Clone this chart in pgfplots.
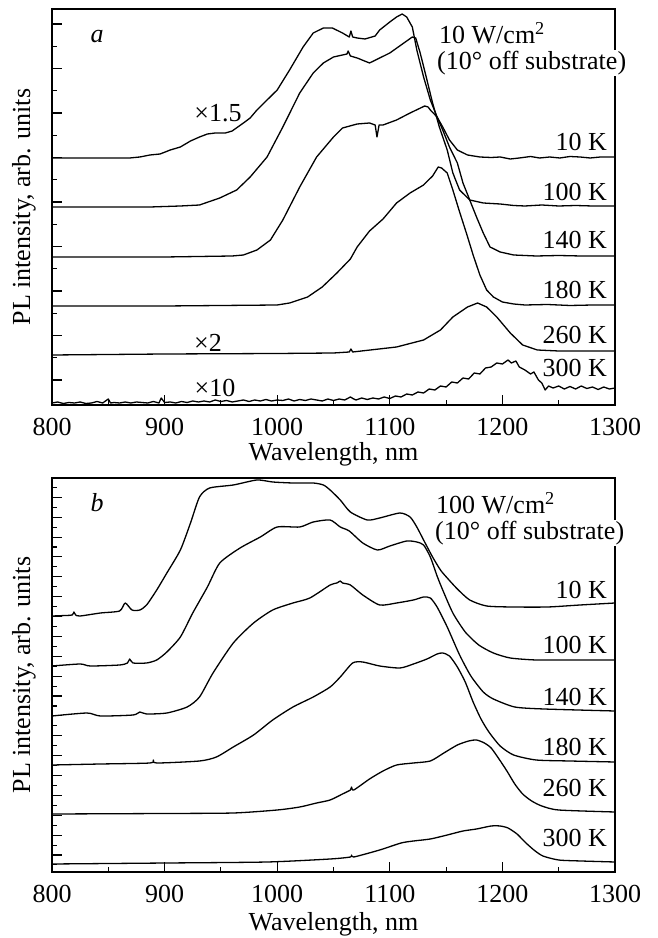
\documentclass[border=0pt]{standalone}
\usepackage{fontspec}
\setmainfont{Liberation Serif}
\usepackage{pgfplots}
\pgfplotsset{compat=1.18}

\pgfplotsset{
  plbase/.style={
    scale only axis, width=563pt, anchor=south west,
    xmin=800, xmax=1300,
    xtick={800,900,...,1300}, minor xtick={850,950,...,1250},
    xtick pos=bottom, ytick pos=left,
    yticklabels={}, tick align=inside,
    major tick length=10pt, minor tick length=5pt,
    tick style={line width=1.1pt, black},
    axis line style={line width=1.8pt},
    /pgf/number format/assume math mode=true,
    /pgf/number format/1000 sep={},
    xticklabel style={anchor=center, inner sep=0pt, yshift=-22pt},
    xlabel={Wavelength, nm},
    ylabel={PL intensity, arb. units},
    ylabel style={at={(axis description cs:-0.05,0.5)}, anchor=center},
    cycle list={{black, solid, no marks}},
    every axis plot/.append style={line width=1.3pt, line join=round},
  }
}

\begin{document}
\fontsize{26}{30}\selectfont
\begin{tikzpicture}
\path[use as bounding box] (0,0) rectangle (658pt,938pt);

% panel a: 10 W/cm2
\begin{axis}[plbase, at={(52pt,533pt)}, height=396pt, ymin=0, ymax=396,
  ytick={25,69.5,114,158.5,203,247.5,292,336.5,381},
  minor ytick={47.25,91.75,136.25,180.75,225.25,269.75,314.25,358.75},
  xlabel style={at={(axis description cs:0.5,-0.125)}, anchor=center, inner sep=0pt}]
% 10 K (x1.5)
\addplot coordinates {(800,247)(843,247)(869,247)(878,248)(887,250)(896,251)(905,255)(914,258)(923,264)(931,268)(938,271)(945,272)(954,272)(960,274)(970,282)(976,287)(982,295)(991,305)(1000,315)(1011,335)(1023,358)(1032,372)(1041,377)(1049,377)(1058,372)(1064,368)(1065.5,374)(1067,368)(1071,367)(1078,366)(1087,369)(1091,375)(1100,383)(1106,388)(1111,391)(1115,388)(1120,378)(1124,355)(1130,328)(1136,305)(1142,288)(1147,278)(1153,265)(1160,255)(1169,250)(1180,248)(1190,247.5)(1198,248)(1207,246)(1215,247)(1225,248.5)(1233,247)(1242,248)(1251,247)(1260,248.5)(1269,248)(1278,247)(1287,248)(1300,248)};
% 100 K
\addplot coordinates {(800,198)(870,198)(887,198)(914,199)(931,200)(949,207)(964,215)(976,228)(991,248)(1005,278)(1020,312)(1032,332)(1041,342)(1050,348)(1058,350)(1062,351)(1063,354)(1065,349)(1071,347)(1082,342)(1091,347)(1100,352)(1110,360)(1120,368)(1123,367)(1127,352)(1133,325)(1138,302)(1144,278)(1151,255)(1156,232)(1162,215)(1171,205)(1183,202)(1198,201)(1210,199.5)(1220,199)(1235,200)(1250,199)(1265,199.5)(1280,199)(1300,199)};
% 140 K
\addplot coordinates {(800,148)(900,148)(960,149)(970,150)(982,155)(994,165)(1005,185)(1020,218)(1035,248)(1050,268)(1058,277)(1071,281)(1082,282)(1087,280)(1088.6,268)(1090.5,280)(1094,280)(1106,285)(1118,292)(1131,299)(1134,298)(1136,295)(1142,288)(1147,275)(1153,258)(1160,242)(1165,222)(1171,205)(1177,188)(1183,172)(1189,158)(1198,153)(1210,150)(1230,149)(1250,149.5)(1270,149)(1300,149)};
% 180 K
\addplot coordinates {(800,99)(900,99)(1000,100)(1011,102)(1027,108)(1040,118)(1053,132)(1065,146)(1071,158)(1082,174)(1094,186)(1106,202)(1118,212)(1130,220)(1138,229)(1143,238)(1146,237)(1151,232)(1156,215)(1162,193)(1168,172)(1174,150)(1180,130)(1186,115)(1192,108)(1200,103)(1210,101)(1220,100)(1240,100.5)(1260,99.5)(1280,100)(1300,100)};
% 260 K (x2)
\addplot coordinates {(800,50)(900,51)(1000,51.5)(1050,52)(1064,53)(1065.5,56)(1067,53)(1106,58)(1130,65)(1145,75)(1156,88)(1169,98)(1178,102)(1186,98)(1195,88)(1207,72)(1218,60)(1231,55)(1250,54)(1300,54)};
% 300 K (x10)
\addplot coordinates {(800,2)(805,3)(810,1.5)(815,2.5)(820,2)(825,3)(830,1.5)(835,2)(840,3.5)(845,2)(850,6)(852,2)(855,2.5)(860,2)(865,3)(870,2)(875,3)(880,2.5)(885,2)(890,3.5)(895,2)(897,7)(900,2.5)(905,3)(910,2)(915,3.5)(920,2.5)(925,4)(930,3)(935,4)(940,3)(945,5)(950,3.5)(955,4.5)(960,3)(965,4)(970,5)(975,3.5)(980,5)(985,4)(990,5.5)(995,4)(1000,5)(1005,4.5)(1010,6)(1015,4)(1020,5.5)(1025,4.5)(1030,6)(1035,5)(1040,4)(1045,6)(1050,4.5)(1055,6)(1060,5)(1065,8)(1068,6)(1070,5)(1075,7)(1080,5.5)(1085,7)(1090,6)(1095,8)(1100,6.5)(1105,9)(1110,8)(1115,11)(1120,10)(1125,13)(1130,12)(1135,16)(1140,15)(1145,19)(1150,18)(1155,23)(1160,22)(1165,27)(1170,26)(1175,32)(1180,31)(1185,37)(1190,38)(1195,42)(1200,41)(1205,45)(1208,42)(1212,44)(1215,38)(1220,35)(1225,31)(1228,33)(1232,25)(1235,22)(1238,15)(1241,19)(1245,17)(1250,19)(1255,16)(1260,18.5)(1265,16)(1270,19)(1275,16.5)(1280,18)(1285,15.5)(1290,18)(1295,16)(1300,17)};
\end{axis}

% panel b: 100 W/cm2
\begin{axis}[plbase, at={(52pt,66pt)}, height=394pt, ymin=0, ymax=394,
  ytick={17,36.87,56.74,76.61,96.48,116.35,136.22,156.09,175.96,195.83,215.7,235.57,255.44,275.31,295.18,315.05,334.92,354.79,374.66},
  minor ytick={7.07,26.94,46.81,66.68,86.55,106.42,126.29,146.16,166.03,185.9,205.77,225.64,245.51,265.38,285.25,305.12,324.99,344.86,364.73,384.6},
  xlabel style={at={(axis description cs:0.5,-0.132)}, anchor=center, inner sep=0pt},
  every axis plot/.append style={smooth, tension=0.4}]
% 10 K
\addplot coordinates {(800,256)(812,256.5)(818,257)(819.5,260)(821,257)(825,256)(843,259)(860,261)(865,269)(871,262)(878,262)(884,267)(893,282)(902,299)(914,322)(923,349)(931,375)(940,384)(961,387)(982,392)(996,390)(1014,389)(1032,389)(1041,387)(1047,382)(1056,372)(1065,360)(1080,352)(1091,354)(1109,359)(1118,355)(1124,345)(1130,332)(1138,315)(1145,302)(1151,294)(1160,283)(1171,272)(1186,266)(1209,265)(1240,265)(1269,267)(1300,269)};
% 100 K
\addplot coordinates {(800,206)(825,208)(834,206)(860,207)(867,209)(869,213)(872,209)(884,209)(893,212)(902,220)(914,235)(925,259)(938,285)(949,309)(967,324)(985,335)(1000,345)(1020,345)(1032,350)(1047,352)(1056,345)(1064,341)(1076,329)(1089,322)(1100,326)(1115,331)(1124,330)(1130,327)(1136,315)(1142,296)(1147,282)(1156,259)(1167,240)(1179,227)(1192,219)(1207,214)(1230,212)(1260,212)(1300,212)};
% 140 K
\addplot coordinates {(800,156)(831,159)(843,156)(872,157)(878,160)(884,158)(902,159)(920,165)(931,175)(943,199)(961,229)(979,249)(996,262)(1014,269)(1029,274)(1047,287)(1053,289)(1056,291)(1058,289)(1065,287)(1076,277)(1091,267)(1106,269)(1121,272)(1130,275)(1136,274)(1142,265)(1151,245)(1162,217)(1172,196)(1183,180)(1192,173)(1211,165)(1237,163)(1300,161)};
% 180 K
\addplot coordinates {(800,107)(843,108)(887,109)(890,112)(893,109)(931,111)(946,115)(961,125)(979,137)(996,152)(1014,165)(1032,175)(1047,185)(1056,195)(1067,209)(1076,210)(1091,206)(1109,204)(1121,208)(1133,213)(1142,218)(1147,219)(1153,216)(1160,205)(1167,190)(1174,170)(1181,153)(1188,140)(1198,126)(1210,117)(1230,112)(1260,111)(1300,110)};
% 260 K
\addplot coordinates {(800,58)(900,58.5)(961,59)(1000,62)(1020,65)(1035,69)(1047,72)(1058,78)(1065,82)(1066,85)(1068,82)(1082,93)(1094,101)(1106,107)(1121,109)(1136,111)(1148,119)(1160,127)(1170,131)(1177,132)(1184,129)(1190,124)(1197,113)(1204,101)(1211,88)(1218,78)(1226,71)(1235,66)(1250,62)(1300,60)};
% 300 K
\addplot coordinates {(800,8)(902,9)(991,10)(1047,13)(1065,15)(1066,17)(1068,15)(1091,22)(1110,29)(1121,31)(1136,33)(1151,37)(1165,41)(1177,43)(1190,46)(1198,46)(1205,44)(1213,38)(1220,30)(1228,22)(1236,16)(1250,12)(1270,11)(1300,10)};
\end{axis}

% annotations, panel a
\node at (97pt,901pt) {\itshape a};
\node at (218pt,825pt) {×1.5};
\node at (208pt,595pt) {×2};
\node at (215pt,550pt) {×10};
\node[anchor=west, inner sep=1pt] at (438pt,905pt) {10 W/cm\textsuperscript{2}};
\node[anchor=west, fill=white, inner sep=1pt] at (436pt,875pt) {(10° off substrate)};
\node[anchor=east, inner sep=1pt] at (608pt,796pt) {10 K};
\node[anchor=east, inner sep=1pt] at (608pt,746pt) {100 K};
\node[anchor=east, inner sep=1pt] at (608pt,698pt) {140 K};
\node[anchor=east, inner sep=1pt] at (608pt,648pt) {180 K};
\node[anchor=east, inner sep=1pt] at (608pt,603pt) {260 K};
\node[anchor=east, inner sep=1pt] at (608pt,570pt) {300 K};
% annotations, panel b
\node at (97pt,435pt) {\itshape b};
\node[anchor=west, inner sep=1pt] at (435pt,435pt) {100 W/cm\textsuperscript{2}};
\node[anchor=west, fill=white, inner sep=1pt] at (434pt,405pt) {(10° off substrate)};
\node[anchor=east, inner sep=1pt] at (608pt,348pt) {10 K};
\node[anchor=east, inner sep=1pt] at (608pt,293pt) {100 K};
\node[anchor=east, inner sep=1pt] at (608pt,241pt) {140 K};
\node[anchor=east, inner sep=1pt] at (608pt,191pt) {180 K};
\node[anchor=east, inner sep=1pt] at (608pt,150pt) {260 K};
\node[anchor=east, inner sep=1pt] at (608pt,100pt) {300 K};
\end{tikzpicture}
\end{document}
